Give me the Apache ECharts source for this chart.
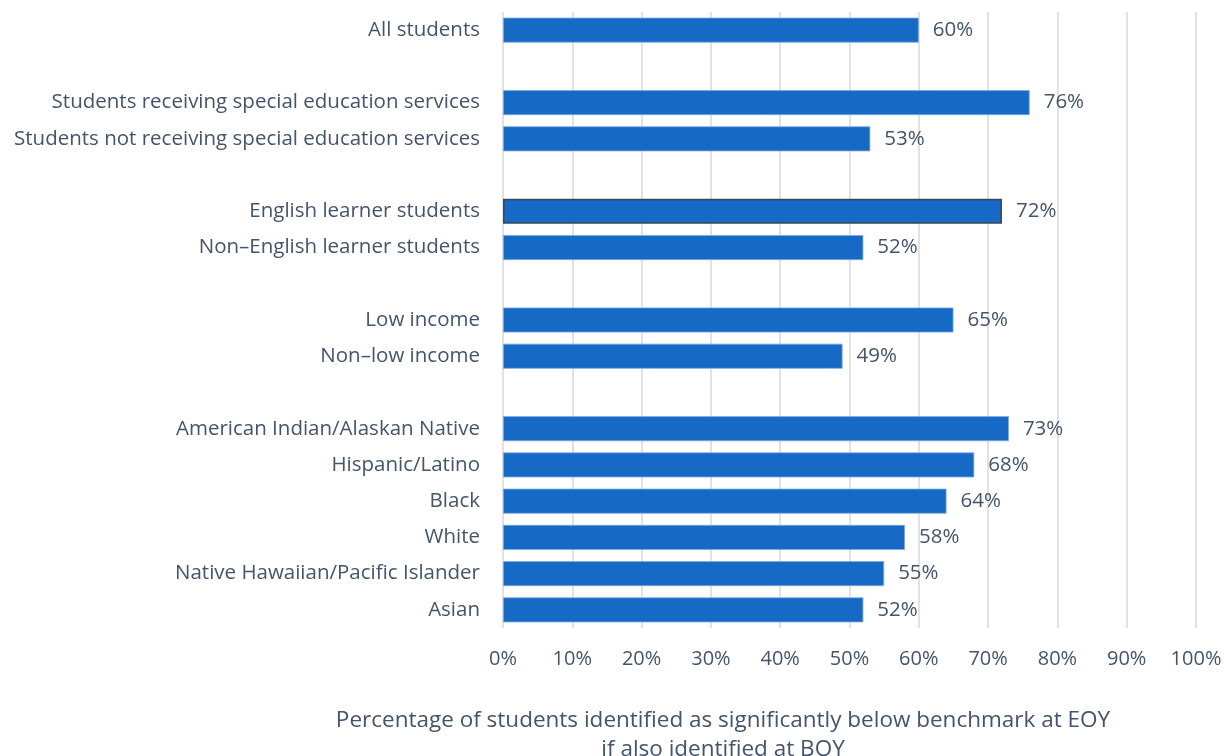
<!DOCTYPE html>
<html>
<head>
<meta charset="utf-8">
<script src="https://cdn.jsdelivr.net/npm/echarts@6/dist/echarts.min.js"></script>
<style>
  html, body { margin: 0; padding: 0; background: #ffffff; }
  #chart { width: 1225px; height: 756px; }
</style>
</head>
<body>
<div id="chart"></div>
<script>
// Student groups, top to bottom; blank strings are spacer rows between groups
const categories = [
  'All students',
  ' ',
  'Students receiving special education services',
  'Students not receiving special education services',
  '  ',
  'English learner students',
  'Non\u2013English learner students',
  '   ',
  'Low income',
  'Non\u2013low income',
  '    ',
  'American Indian/Alaskan Native',
  'Hispanic/Latino',
  'Black',
  'White',
  'Native Hawaiian/Pacific Islander',
  'Asian'
];

// Percent identified significantly below benchmark at EOY (null = spacer)
const values = [60, null, 76, 53, null, 72, 52, null, 65, 49, null, 73, 68, 64, 58, 55, 52];

// X-axis tick values (percent)
const ticks = [0, 10, 20, 30, 40, 50, 60, 70, 80, 90, 100];

const textColor = '#44546A';
const barColor = '#1769C6';
const fontFamily = '"Open Sans", "Noto Sans", sans-serif';

const chart = echarts.init(document.getElementById('chart'));

const seriesData = values.map((v, i) => {
  if (v === null) return null;
  const item = { value: v };
  if (categories[i] === 'English learner students') {
    item.itemStyle = { borderColor: '#3B4756', borderWidth: 1.5 };
  }
  return item;
});

chart.setOption({
  animation: false,
  backgroundColor: '#ffffff',
  textStyle: { fontFamily: fontFamily },
  title: {
    text: 'Percentage of students identified as significantly below benchmark at EOY\nif also identified at BOY',
    left: 718,
    top: 701,
    textAlign: 'center',
    textStyle: {
      fontFamily: fontFamily,
      fontSize: 22.5,
      fontWeight: 'normal',
      color: textColor,
      lineHeight: 29,
      align: 'center'
    }
  },
  grid: {
    left: 503,
    right: 29,
    top: 12,
    height: 616,
    containLabel: false
  },
  xAxis: {
    type: 'value',
    min: ticks[0],
    max: ticks[ticks.length - 1],
    interval: ticks[1] - ticks[0],
    axisLine: { show: false },
    axisTick: { show: false },
    axisLabel: {
      formatter: '{value}%',
      fontSize: 20,
      color: textColor,
      margin: 21,
      fontFamily: fontFamily
    },
    splitLine: { show: true, lineStyle: { color: '#D9D9D9', width: 1.5 } }
  },
  yAxis: {
    type: 'category',
    data: categories,
    inverse: true,
    axisLine: { show: false },
    axisTick: { show: false },
    axisLabel: {
      fontSize: 20.5,
      color: textColor,
      margin: 23,
      fontFamily: fontFamily
    }
  },
  series: [{
    type: 'bar',
    data: seriesData,
    barWidth: 25,
    itemStyle: { color: barColor, borderColor: '#7FA9DE', borderWidth: 0.8 },
    label: {
      show: true,
      position: 'right',
      distance: 14,
      formatter: p => p.value + '%',
      fontSize: 20.5,
      color: textColor,
      fontFamily: fontFamily
    }
  }]
});
</script>
</body>
</html>
